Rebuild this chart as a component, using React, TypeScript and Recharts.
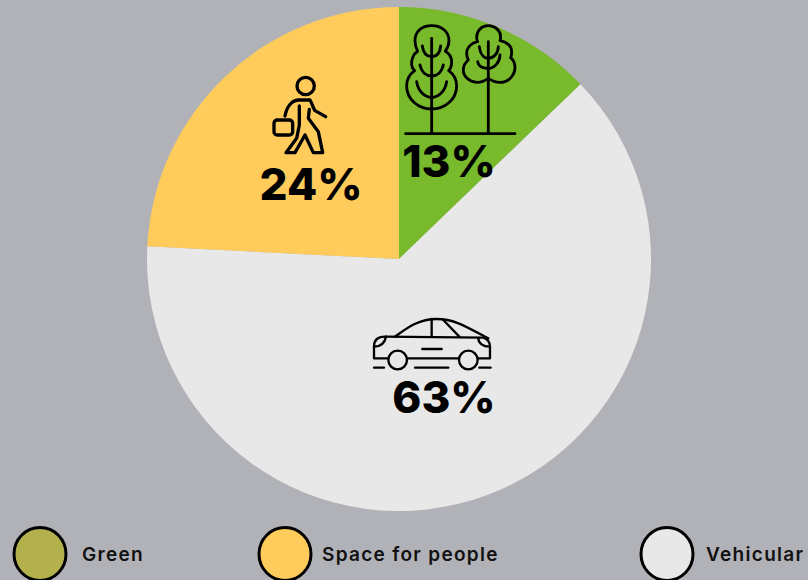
import React from 'react';
import { PieChart, Pie, Cell, Legend } from 'recharts';

const sliceNames = ['Green', 'Vehicular', 'Space for people'];
const sliceValues = [12.8, 63, 24.2];
const sliceLabels = ['13%', '63%', '24%'];
const sliceColors = ['#78BA2C', '#E8E8E8', '#FFCC5C'];

const legendNames = ['Green', 'Space for people', 'Vehicular'];
const legendColors = ['#B3B04E', '#FFCC5C', '#E8E8E8'];
const legendX = [40, 285, 667];
const legendTextX = [82, 322, 706];

const pieData = sliceNames.map((name, i) => ({ name, value: sliceValues[i], text: sliceLabels[i] }));

const labelPos: Record<string, [number, number]> = {
  Green: [449, 177],
  Vehicular: [444, 413],
  'Space for people': [311, 200],
};

const line = { fill: 'none', stroke: '#000', strokeLinecap: 'round', strokeLinejoin: 'round' } as const;

const TreesIcon = () => (
  <g {...line} transform="translate(250 10) scale(0.3333)" strokeWidth={8.5}>
    <path d="M545 47 C515 47 495 65 495 92 C495 108 500 118 503 124 C490 132 483 150 485 165 C486 175 490 178 494 182 C480 192 470 210 470 228 C470 268 505 297 545 297 C585 297 620 268 620 228 C620 210 610 192 596 182 C602 176 605 165 605 155 C605 142 596 130 586 124 C592 115 597 105 597 92 C597 65 575 47 545 47 Z" />
    <path d="M545 85 L545 370" />
    <path d="M517 108 C520 130 530 140 545 140 C560 140 570 130 572 108" />
    <path d="M510 165 C515 188 530 198 545 198 C560 198 575 188 580 165" />
    <path d="M500 215 C505 245 525 262 545 262 C565 262 585 245 590 215" />
    <path d="M715 47 C695 47 680 62 680 82 C680 88 681 92 683 95 C665 98 650 112 650 130 C650 140 652 145 655 150 C645 158 640 170 640 180 C640 200 660 217 682 217 C695 217 705 212 715 205 C725 212 735 217 750 217 C775 217 795 197 795 172 C795 160 790 150 782 143 C785 138 785 132 785 125 C785 108 770 95 750 92 C752 88 752 85 752 80 C752 62 735 47 715 47 Z" />
    <path d="M715 95 L715 370" />
    <path d="M688 110 C690 130 700 145 715 145 C730 145 745 130 745 110" />
    <path d="M683 155 C685 170 700 175 715 175 C735 175 750 155 750 135" />
    <path d="M467 371 L795 371" />
  </g>
);

const PersonIcon = () => (
  <g {...line} transform="translate(250 10) scale(0.3333)" strokeWidth={10}>
    <circle cx={167} cy={228} r={26} />
    <path d="M105 318 C110 290 125 272 145 270 L180 270 C186 280 190 295 195 302 L227 320" />
    <path d="M148 288 L148 345 L140 385 L108 428 L135 428 L165 375 L190 428 L218 428 L205 365 L175 325 L178 298" />
    <rect x={72} y={330} width={56} height={45} rx={10} />
  </g>
);

const CarIcon = () => (
  <g {...line} transform="translate(360 305) scale(0.3333)" strokeWidth={7}>
    <path d="M85 160 L42 160 L42 125 C42 105 55 95 75 95 L370 98 C382 102 390 110 390 125 L390 160 L355 160" />
    <path d="M145 160 L295 160" />
    <path d="M105 95 C140 70 175 42 230 42 C280 42 310 60 385 100" />
    <path d="M215 42 L215 95" />
    <path d="M250 45 L298 95" />
    <path d="M187 132 L245 132" />
    <path d="M42 125 C65 125 75 110 78 95" />
    <path d="M355 100 C355 115 370 125 388 125" />
    <circle cx={113} cy={165} r={28} />
    <circle cx={325} cy={165} r={28} />
    <path d="M42 188 L72 188 M165 188 L265 188 M358 188 L392 188" />
  </g>
);

const icons: Record<string, React.FC> = {
  Green: TreesIcon,
  Vehicular: CarIcon,
  'Space for people': PersonIcon,
};

// labels sit above the sectors, so the icons go in here too
const renderLabel = (props: any) => {
  const [x, y] = labelPos[props.name];
  const Icon = icons[props.name];
  return (
    <g>
      <Icon />
      <text x={x} y={y} textAnchor="middle" fontFamily="Inter" fontWeight={800} fontSize={44} fill="#000">
        {props.text}
      </text>
    </g>
  );
};

const renderLegend = () => (
  <svg width={808} height={60} style={{ display: 'block' }}>
    {legendNames.map((name, i) => (
      <g key={name}>
        <ellipse cx={legendX[i]} cy={34} rx={26} ry={26.5} fill={legendColors[i]} stroke="#000" strokeWidth={3} />
        <text x={legendTextX[i]} y={40.5} fontFamily="Inter" fontWeight={600} fontSize={19} letterSpacing={1.3} fill="#111">
          {name}
        </text>
      </g>
    ))}
  </svg>
);

export default function App() {
  return (
    <div style={{ position: 'absolute', left: 0, top: 0, width: 808, height: 580, background: '#B1B2B7', overflow: 'hidden' }}>
      <PieChart width={808} height={580} margin={{ top: 0, right: 0, bottom: 0, left: 0 }}>
        <Pie
          data={pieData}
          dataKey="value"
          nameKey="name"
          cx={399}
          cy={259}
          outerRadius={252}
          startAngle={90}
          endAngle={-270}
          stroke="none"
          label={renderLabel}
          labelLine={false}
          isAnimationActive={false}
        >
          {pieData.map((d, i) => (
            <Cell key={d.name} fill={sliceColors[i]} />
          ))}
        </Pie>
        <Legend content={renderLegend} wrapperStyle={{ left: 0, top: 520, width: 808, height: 60 }} />
      </PieChart>
    </div>
  );
}
